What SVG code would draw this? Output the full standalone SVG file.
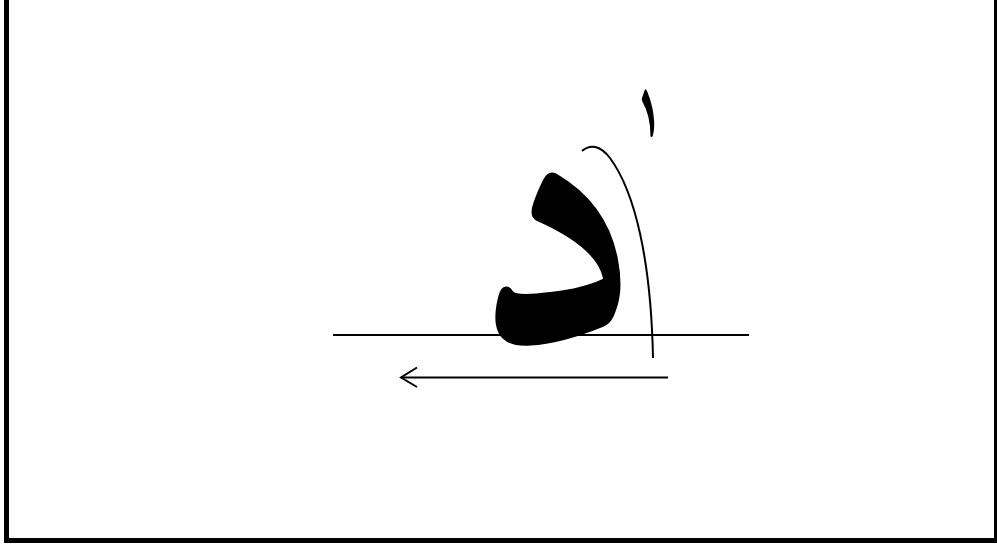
<svg xmlns="http://www.w3.org/2000/svg" width="997" height="547" viewBox="0 0 997 547">
<style>
.ln{stroke:#000;stroke-width:2;fill:none}
.ar{font-family:"Amiri","Noto Naskh Arabic","DejaVu Sans",serif;fill:#000}
</style>
<rect x="0" y="0" width="997" height="547" fill="#fff"/>
<rect x="6.5" y="-10" width="990" height="550.5" fill="none" stroke="#000" stroke-width="5"/>
<g id="connectors">
<line class="ln" x1="333" y1="335" x2="749" y2="335"/>
<path class="ln" d="M582,151 C590,144 600,145 610,158 C635,192 651,260 653,358"/>
<line class="ln" x1="668" y1="377.5" x2="401" y2="377.5"/>
<polyline class="ln" points="417,367.5 401,377.5 417,387"/>
</g>
<g id="letter">
<text class="ar" x="555" y="337" font-size="408" font-weight="bold" text-anchor="middle">د</text>
</g>
<g id="digit">
<text class="ar" x="648" y="130" font-size="75" text-anchor="middle">١</text>
</g>
</svg>
